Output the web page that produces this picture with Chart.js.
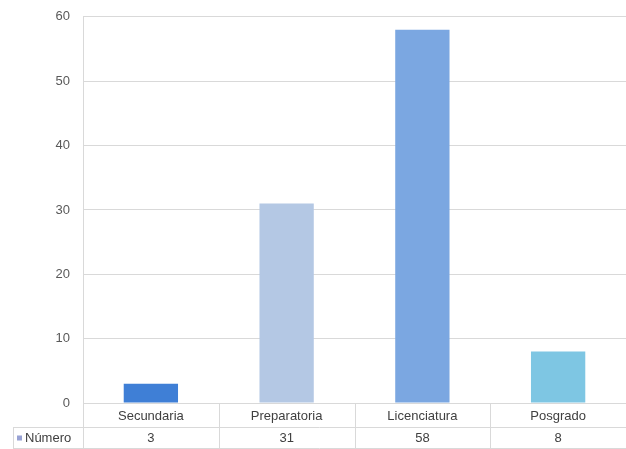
<!DOCTYPE html>
<html>
<head>
<meta charset="utf-8">
<script src="https://cdn.jsdelivr.net/npm/chart.js@4/dist/chart.umd.min.js"></script>
<style>
  html, body { margin: 0; padding: 0; background: #fff; }
  #wrap { width: 626px; height: 449px; position: relative; }
</style>
</head>
<body>
<div id="wrap"><canvas id="chart"></canvas></div>
<script>
// data
const categories = ['Secundaria', 'Preparatoria', 'Licenciatura', 'Posgrado'];
const seriesName = 'Número';
const values = [3, 31, 58, 8];
const barColors = ['#3f7fd6', '#b4c8e4', '#7ba7e1', '#7ec6e3'];
const yTicks = [0, 10, 20, 30, 40, 50, 60];

const FONT = "'Liberation Sans', sans-serif";
const gridColor = '#d9d9d9';

// draws the data table under the plot (category row + value row)
const dataTable = {
    id: 'dataTable',
    afterDraw(chart) {
        const ctx = chart.ctx;
        const area = chart.chartArea;
        const x = chart.scales.x;
        const row1Top = area.bottom;
        const row1Bottom = row1Top + 24;
        const row2Bottom = row1Bottom + 21;
        const tableLeft = 13;
        const n = categories.length;
        const colW = (area.right - area.left) / n;

        ctx.save();
        ctx.strokeStyle = gridColor;
        ctx.lineWidth = 1;
        ctx.beginPath();
        // horizontal lines
        ctx.moveTo(tableLeft, row1Bottom + 0.5);
        ctx.lineTo(area.right, row1Bottom + 0.5);
        ctx.moveTo(tableLeft, row2Bottom + 0.5);
        ctx.lineTo(area.right, row2Bottom + 0.5);
        // vertical lines
        ctx.moveTo(tableLeft + 0.5, row1Bottom);
        ctx.lineTo(tableLeft + 0.5, row2Bottom);
        for (let i = 0; i <= n; i++) {
            const px = Math.round(area.left + colW * i) + 0.5;
            ctx.moveTo(px, row1Top);
            ctx.lineTo(px, row2Bottom);
        }
        ctx.stroke();

        ctx.font = '13px ' + FONT;
        ctx.fillStyle = '#404040';
        ctx.textAlign = 'center';
        ctx.textBaseline = 'middle';
        categories.forEach((c, i) => {
            const cx = x.getPixelForValue(i);
            ctx.fillText(c, cx, (row1Top + row1Bottom) / 2 + 1);
            ctx.fillText(String(values[i]), cx, (row1Bottom + row2Bottom) / 2 + 1);
        });

        // legend key + series name
        ctx.fillStyle = '#98a2d4';
        ctx.fillRect(17, (row1Bottom + row2Bottom) / 2 - 2, 5, 5);
        ctx.fillStyle = '#404040';
        ctx.textAlign = 'left';
        ctx.fillText(seriesName, 25, (row1Bottom + row2Bottom) / 2 + 1);
        ctx.restore();
    }
};

new Chart(document.getElementById('chart'), {
    type: 'bar',
    data: {
        labels: categories,
        datasets: [{
            label: seriesName,
            data: values,
            backgroundColor: barColors,
            borderWidth: 0,
            categoryPercentage: 1,
            barPercentage: 0.4
        }]
    },
    options: {
        responsive: true,
        maintainAspectRatio: false,
        animation: false,
        layout: { padding: { top: 16, right: 0, bottom: 38, left: 0 } },
        plugins: {
            legend: { display: false },
            tooltip: { enabled: false }
        },
        scales: {
            x: {
                grid: { display: false },
                border: { display: false },
                ticks: { display: false }
            },
            y: {
                min: 0,
                max: 60,
                afterBuildTicks(scale) {
                    scale.ticks = yTicks.map(v => ({ value: v }));
                },
                afterFit(scale) {
                    scale.width = 83;
                },
                grid: { color: gridColor, drawTicks: false },
                border: { color: gridColor },
                ticks: {
                    padding: 13,
                    color: '#595959',
                    font: { family: FONT, size: 13, lineHeight: 0.6 }
                }
            }
        }
    },
    plugins: [dataTable]
});
</script>
</body>
</html>
